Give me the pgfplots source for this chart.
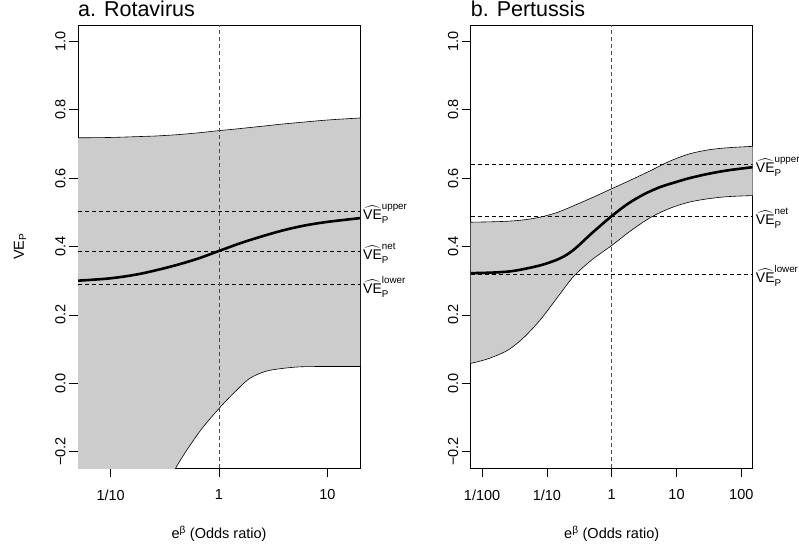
\documentclass[border=0pt]{standalone}
\usepackage{fontspec}
\setmainfont{Liberation Sans}
\usepackage{amsmath}
\usepackage{pgfplots}
\pgfplotsset{compat=1.18}
\usepgfplotslibrary{fillbetween}
\definecolor{band}{HTML}{CCCCCC}

\newcommand{\tickfont}{\fontsize{14.5}{16}\selectfont}
\newcommand{\vehat}[1]{$\widehat{\text{VE}}^{\text{#1}}_{\text{P}}$}

\pgfplotsset{
  panel/.style={
    scale only axis, width=282pt, height=443pt, anchor=south west,
    ymin=-0.248, ymax=1.048,
    ytick={-0.2,0,0.2,0.4,0.6,0.8,1.0},
    yticklabels={−0.2,0.0,0.2,0.4,0.6,0.8,1.0},
    tick align=outside, major tick length=9pt,
    xtick pos=bottom, ytick pos=left,
    tick style={black, line width=0.6pt},
    axis line style={line width=0.75pt},
    yticklabel style={rotate=90, anchor=south, font=\tickfont},
    xticklabel style={font=\tickfont, yshift=-9pt},
    xlabel={e\textsuperscript{β} (Odds ratio)},
    xlabel style={font=\tickfont, at={(axis description cs:0.5,-0.160)}, anchor=base, inner sep=0pt},
    title style={font=\fontsize{21.5}{23}\selectfont, at={(axis description cs:0,1)}, anchor=base west, inner sep=0pt, yshift=2.3pt},
  },
  dline/.style={black, line width=0.6pt, dash pattern=on 4pt off 3pt},
  vline/.style={black!70, line width=0.6pt, dash pattern=on 4pt off 3pt},
  bound/.style={black, line width=0.6pt, smooth},
  est/.style={black, line width=2.6pt, smooth},
}
\tikzset{
  lab/.style={anchor=west, inner sep=0pt, xshift=3pt, yshift=-2pt, font=\fontsize{14}{16}\selectfont},
}

\pgfplotstableread{
x      up     lo
-1.301 0.718 -1.000
-1.0   0.719 -0.620
-0.7   0.722 -0.420
-0.6   0.723 -0.380
-0.39  0.727 -0.243
-0.175 0.733 -0.140
0      0.739 -0.074
0.132  0.743 -0.030
0.283  0.748  0.014
0.432  0.753  0.035
0.578  0.758  0.043
0.75   0.763  0.048
1.0    0.770  0.049
1.301  0.776  0.049
}\rota
\pgfplotstableread{
x      up    lo
-2.176 0.471 0.058
-1.9   0.472 0.072
-1.6   0.474 0.097
-1.35  0.478 0.135
-1.1   0.486 0.186
-0.85  0.499 0.248
-0.59  0.519 0.312
-0.3   0.543 0.362
0      0.569 0.403
0.3    0.595 0.447
0.6    0.622 0.485
0.9    0.650 0.512
1.2    0.671 0.530
1.5    0.683 0.540
1.8    0.689 0.546
2.176  0.693 0.549
}\pert

\begin{document}
\begin{tikzpicture}

% a. Rotavirus (x = log10 odds ratio)
\begin{axis}[panel, at={(78pt,76pt)},
    title={a. Rotavirus},
    xmin=-1.301, xmax=1.301,
    xtick={-1,0,1}, xticklabels={1/10,1,10}]
  \addplot[draw=none, smooth, name path=upA] table[x=x, y=up] {\rota};
  \addplot[draw=none, smooth, name path=loA] table[x=x, y=lo] {\rota};
  \addplot[band] fill between[of=upA and loA];
  \addplot[bound] table[x=x, y=up] {\rota};
  \addplot[bound] table[x=x, y=lo] {\rota};
  \addplot[dline] coordinates {(-1.301,0.502) (1.301,0.502)};
  \addplot[dline] coordinates {(-1.301,0.387) (1.301,0.387)};
  \addplot[dline] coordinates {(-1.301,0.288) (1.301,0.288)};
  \addplot[vline] coordinates {(0,-0.248) (0,1.048)};
  \addplot[est] coordinates {
    (-1.301,0.300) (-1.0,0.307) (-0.728,0.320) (-0.424,0.343) (-0.2,0.364) (0,0.387)
    (0.2,0.41) (0.4,0.43) (0.6,0.448) (0.8,0.462) (1.0,0.472) (1.301,0.483)};
  \coordinate (a1) at (axis cs:1.301,0.502);
  \coordinate (a2) at (axis cs:1.301,0.387);
  \coordinate (a3) at (axis cs:1.301,0.288);
  \coordinate (ay) at (axis description cs:-0.2057,0.5);
\end{axis}
\node[lab] at (a1) {\vehat{upper}};
\node[lab] at (a2) {\vehat{net}};
\node[lab] at (a3) {\vehat{lower}};
\node[rotate=90, font=\tickfont] at (ay) {VE\textsubscript{P}};

% b. Pertussis
\begin{axis}[panel, at={(470.7pt,76pt)},
    title={b. Pertussis},
    xmin=-2.176, xmax=2.176,
    xtick={-2,-1,0,1,2}, xticklabels={1/100,1/10,1,10,100}]
  \addplot[draw=none, smooth, name path=upB] table[x=x, y=up] {\pert};
  \addplot[draw=none, smooth, name path=loB] table[x=x, y=lo] {\pert};
  \addplot[band] fill between[of=upB and loB];
  \addplot[bound] table[x=x, y=up] {\pert};
  \addplot[bound] table[x=x, y=lo] {\pert};
  \addplot[dline] coordinates {(-2.176,0.640) (2.176,0.640)};
  \addplot[dline] coordinates {(-2.176,0.489) (2.176,0.489)};
  \addplot[dline] coordinates {(-2.176,0.320) (2.176,0.320)};
  \addplot[vline] coordinates {(0,-0.248) (0,1.048)};
  \addplot[est] coordinates {
    (-2.176,0.322) (-1.8,0.324) (-1.5,0.329) (-1.1,0.345) (-0.8,0.365) (-0.59,0.39)
    (-0.3,0.44) (0,0.489) (0.25,0.525) (0.5,0.553) (0.75,0.574) (1.0,0.589)
    (1.2,0.600) (1.5,0.613) (1.8,0.623) (2.176,0.632)};
  \coordinate (b1) at (axis cs:2.176,0.640);
  \coordinate (b2) at (axis cs:2.176,0.489);
  \coordinate (b3) at (axis cs:2.176,0.320);
\end{axis}
\node[lab] at (b1) {\vehat{upper}};
\node[lab] at (b2) {\vehat{net}};
\node[lab] at (b3) {\vehat{lower}};
\pgfresetboundingbox
\useasboundingbox (0pt,0pt) rectangle (799pt,544pt);
\end{tikzpicture}
\end{document}
